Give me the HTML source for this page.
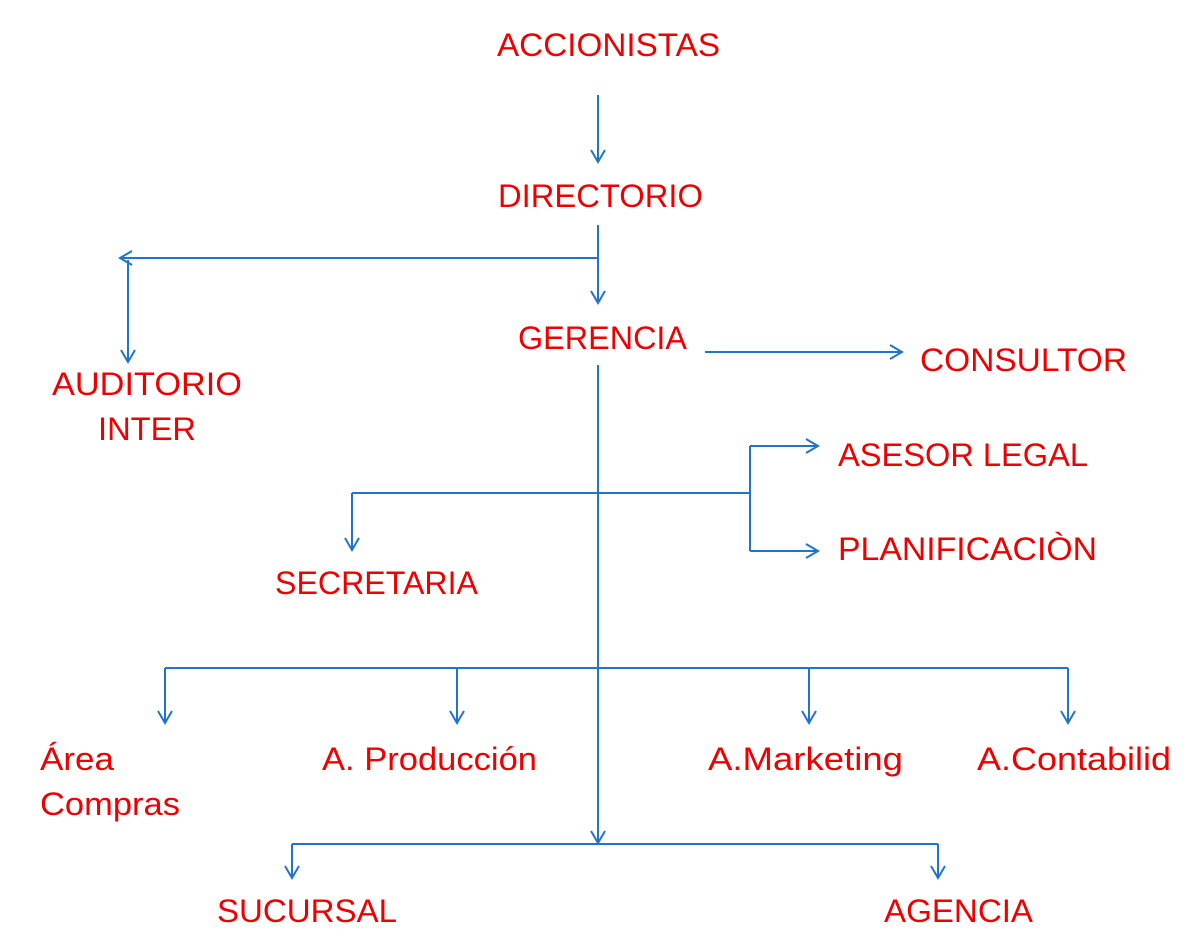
<!DOCTYPE html>
<html><head><meta charset="utf-8"><style>
html,body{margin:0;padding:0;background:#fff;}
svg{display:block;}
text{font-family:"Liberation Sans",sans-serif;font-size:32px;fill:#ee0000;}
</style></head><body>
<svg width="1201" height="951" viewBox="0 0 1201 951" xmlns="http://www.w3.org/2000/svg">
<defs>
<marker id="a" markerWidth="20" markerHeight="20" refX="14" refY="8" orient="auto" markerUnits="userSpaceOnUse">
<path d="M2,1 L14,8 L2,15" fill="none" stroke="#1f74cc" stroke-width="2"/>
</marker>
</defs>
<g stroke="#1f74cc" stroke-width="2" fill="none">
<line x1="598" y1="95" x2="598" y2="162" marker-end="url(#a)"/>
<line x1="598" y1="225" x2="598" y2="303" marker-end="url(#a)"/>
<line x1="598" y1="258" x2="120" y2="258" marker-end="url(#a)"/>
<line x1="128" y1="260" x2="128" y2="362" marker-end="url(#a)"/>
<line x1="705" y1="352" x2="902" y2="352" marker-end="url(#a)"/>
<line x1="598" y1="365" x2="598" y2="843" marker-end="url(#a)"/>
<line x1="352" y1="493" x2="750" y2="493"/>
<line x1="352" y1="493" x2="352" y2="550" marker-end="url(#a)"/>
<line x1="750" y1="446" x2="750" y2="551"/>
<line x1="750" y1="446" x2="818" y2="446" marker-end="url(#a)"/>
<line x1="750" y1="551" x2="818" y2="551" marker-end="url(#a)"/>
<line x1="165" y1="668" x2="1068" y2="668"/>
<line x1="165" y1="668" x2="165" y2="723" marker-end="url(#a)"/>
<line x1="457" y1="668" x2="457" y2="723" marker-end="url(#a)"/>
<line x1="809" y1="668" x2="809" y2="723" marker-end="url(#a)"/>
<line x1="1068" y1="668" x2="1068" y2="723" marker-end="url(#a)"/>
<line x1="292" y1="844" x2="938" y2="844"/>
<line x1="292" y1="844" x2="292" y2="878" marker-end="url(#a)"/>
<line x1="938" y1="844" x2="938" y2="878" marker-end="url(#a)"/>
</g>
<text x="497" y="56" textLength="223" lengthAdjust="spacingAndGlyphs">ACCIONISTAS</text>
<text x="498" y="207" textLength="205" lengthAdjust="spacingAndGlyphs">DIRECTORIO</text>
<text x="518" y="349" textLength="169" lengthAdjust="spacingAndGlyphs">GERENCIA</text>
<text x="920" y="371" textLength="207" lengthAdjust="spacingAndGlyphs">CONSULTOR</text>
<text x="52" y="395" textLength="190" lengthAdjust="spacingAndGlyphs">AUDITORIO</text>
<text x="98" y="440" textLength="98" lengthAdjust="spacingAndGlyphs">INTER</text>
<text x="838" y="466" textLength="250" lengthAdjust="spacingAndGlyphs">ASESOR LEGAL</text>
<text x="838" y="560" textLength="259" lengthAdjust="spacingAndGlyphs">PLANIFICACIÒN</text>
<text x="275" y="594" textLength="203" lengthAdjust="spacingAndGlyphs">SECRETARIA</text>
<text x="40" y="770" textLength="74" lengthAdjust="spacingAndGlyphs">Área</text>
<text x="40" y="815" textLength="140" lengthAdjust="spacingAndGlyphs">Compras</text>
<text x="322" y="770" textLength="215" lengthAdjust="spacingAndGlyphs">A. Producción</text>
<text x="708" y="770" textLength="195" lengthAdjust="spacingAndGlyphs">A.Marketing</text>
<text x="977" y="770" textLength="194" lengthAdjust="spacingAndGlyphs">A.Contabilid</text>
<text x="217" y="922" textLength="180" lengthAdjust="spacingAndGlyphs">SUCURSAL</text>
<text x="884" y="922" textLength="149" lengthAdjust="spacingAndGlyphs">AGENCIA</text>
</svg>
</body></html>
